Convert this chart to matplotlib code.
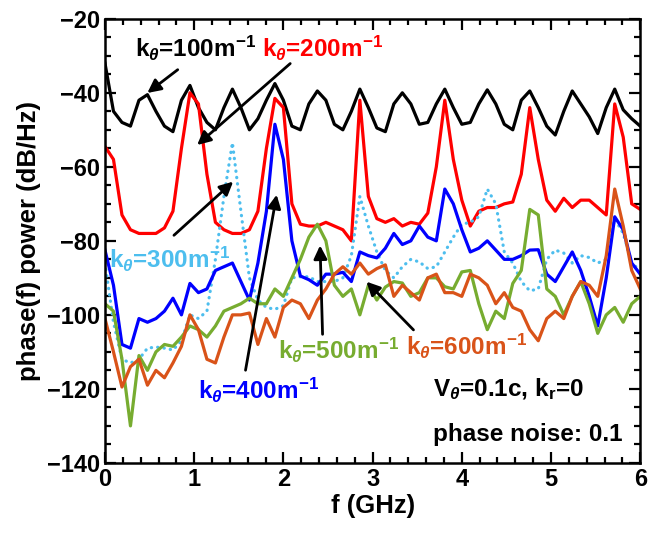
import numpy as np
import matplotlib
matplotlib.use('Agg')
import matplotlib.pyplot as plt

plt.rcParams['font.family'] = ['Liberation Sans', 'DejaVu Sans']
plt.rcParams['font.weight'] = 'bold'
plt.rcParams['mathtext.fontset'] = 'custom'
plt.rcParams['mathtext.rm'] = 'Liberation Sans:bold'
plt.rcParams['mathtext.it'] = 'Liberation Sans:italic'
plt.rcParams['mathtext.bf'] = 'Liberation Sans:bold'

# frequency grid (GHz)
f = np.linspace(0, 6, 64)

# phase(f) power in dB/Hz
k100 = [-32, -45, -48, -49, -42, -40.5, -45, -49, -50.5, -42,
        -38, -44, -48, -50, -44, -39, -44, -50, -47, -42,
        -37.5, -42, -49, -50, -43, -39.5, -42, -48.5, -50, -45,
        -39, -44, -49.5, -50.5, -43, -40, -43, -48.5, -48, -43,
        -39, -44, -48.5, -48, -43, -39.2, -43, -48.5, -50, -42,
        -39.5, -44, -49, -51.4, -45, -39.5, -43, -46.5, -51, -44,
        -39, -44.6, -47, -49]
k200 = [-54.5, -58, -73, -77, -78, -78, -78, -76.5, -72, -55,
        -40, -43, -62, -75, -77, -78, -78, -77, -72, -55,
        -41.5, -44, -70, -75.5, -76, -76, -75, -76, -77, -80,
        -42, -68, -74, -75, -74, -76, -75, -75.5, -72.5, -60,
        -42, -58, -69, -76, -72, -71, -71, -70, -69.5, -62,
        -44, -58, -69, -72, -68.5, -71, -69, -69, -71, -73,
        -43, -52, -70, -71.5]
k300 = [-86, -102, -112, -113, -112, -109, -108.7, -109, -109.5, -107,
        -100, -101, -99, -85, -68, -53.5, -72, -90, -96, -98,
        -98.5, -97.5, -90, -89.7, -89.7, -91, -91, -91, -90, -84,
        -68, -76, -83, -88, -90, -87, -85, -85.7, -87.5, -87,
        -83, -79, -75.5, -75, -73.5, -66, -70, -83, -86, -91,
        -93.5, -93, -85, -82.5, -83.3, -86, -84, -84.5, -86, -85,
        -74, -78, -86, -88]
k400 = [-82.5, -92, -108, -109, -101, -102, -101, -99, -95.5, -100,
        -91.5, -94, -93, -88, -87, -86, -91, -96, -86, -72,
        -48.5, -58, -80, -89.5, -90.5, -92, -89, -89, -88.5, -91,
        -83, -84, -84.6, -82, -78, -81, -80, -76, -79, -80,
        -66, -70, -77, -83, -82, -80, -82.5, -85, -85, -84,
        -82.5, -82.4, -89, -91, -87, -83, -88, -95, -103, -90,
        -73.5, -77, -86, -89]
k500 = [-97, -99, -112, -130, -111, -115, -110, -108, -108.5, -106,
        -103, -104, -106, -103, -99, -98, -97, -95.5, -97, -97,
        -93, -95, -90, -85, -79, -75.5, -80, -92, -95, -93,
        -100, -92, -96, -92.5, -91, -91.4, -95, -94, -90, -90,
        -92.4, -93, -88.4, -88, -97, -104, -99, -101, -91.5, -88,
        -71.5, -73, -93, -95, -100, -95, -91, -97, -105, -100,
        -98, -102, -97, -95]
k600 = [-101, -110, -119.5, -114, -112, -119, -115, -117, -113, -108.5,
        -100, -104, -112, -113, -106, -100, -100, -99.5, -108, -101,
        -106, -98, -96, -97, -101, -96, -93, -89, -87, -89,
        -86, -89, -87.5, -86.5, -95, -92, -94, -96, -90, -89,
        -94, -94, -95, -89, -90, -92, -97, -94, -98, -99,
        -104, -107, -101, -99, -101, -95, -91, -92, -95, -84,
        -66, -76, -88, -93]

fig = plt.figure(figsize=(6.48, 5.37), dpi=100)
ax = fig.add_axes([0.162, 0.138, 0.826, 0.827])

lw = 2.3
ax.plot(f, k100, color='black', lw=lw)
ax.plot(f, k200, color='#FF0000', lw=lw)
ax.plot(f, k300, color='#4DBEEE', lw=lw, ls=(0, (0.1, 1.9)), dash_capstyle='round')
ax.plot(f, k400, color='#0000FF', lw=lw)
ax.plot(f, k500, color='#77AC30', lw=lw)
ax.plot(f, k600, color='#D95319', lw=lw)

ax.set_xlim(0, 6)
ax.set_ylim(-140, -20)
ax.set_xticks(range(0, 7))
ax.set_yticks(range(-140, -19, 20))
ax.set_xticks(np.arange(0, 6.01, 0.2), minor=True)
ax.set_yticks(np.arange(-140, -19, 5), minor=True)
ax.tick_params(which='both', direction='in', top=True, right=True, width=1.6)
ax.tick_params(which='major', length=8, labelsize=17)
ax.tick_params(which='minor', length=4)
for s in ax.spines.values():
    s.set_linewidth(1.8)

ax.set_xlabel('f (GHz)', fontsize=18.5, fontweight='bold', labelpad=2)
ax.set_ylabel('phase(f) power (dB/Hz)', fontsize=18.5, fontweight='bold', labelpad=4)

arrow = dict(arrowstyle='-|>', color='black', lw=2, mutation_scale=20)
fs = 17.5
ax.annotate('', xy=(0.45, -40.5), xytext=(0.84, -33.3), arrowprops=arrow)
ax.annotate('', xy=(1.01, -54.6), xytext=(2.10, -31.6), arrowprops=arrow)
ax.annotate('', xy=(1.46, -63.5), xytext=(0.75, -79), arrowprops=arrow)
ax.annotate('', xy=(1.93, -66.8), xytext=(1.57, -115.7), arrowprops=arrow)
ax.annotate('', xy=(2.41, -80.5), xytext=(2.44, -106), arrowprops=arrow)
ax.annotate('', xy=(2.91, -90.5), xytext=(3.48, -104.6), arrowprops=arrow)

ax.text(0.34, -28, r'k$_\theta$=100m$^{\mathbf{-1}}$', color='black', fontsize=fs, va='center')
ax.text(1.76, -28, r'k$_\theta$=200m$^{\mathbf{-1}}$', color='#FF0000', fontsize=fs, va='center')
ax.text(0.05, -85, r'k$_\theta$=300m$^{\mathbf{-1}}$', color='#4DBEEE', fontsize=fs, va='center')
ax.text(1.04, -120.3, r'k$_\theta$=400m$^{\mathbf{-1}}$', color='#0000FF', fontsize=fs, va='center')
ax.text(1.94, -109.5, r'k$_\theta$=500m$^{\mathbf{-1}}$', color='#77AC30', fontsize=fs, va='center')
ax.text(3.37, -108.5, r'k$_\theta$=600m$^{\mathbf{-1}}$', color='#D95319', fontsize=fs, va='center')
ax.text(3.68, -120, r'V$_\theta$=0.1c, k$_{\mathbf{r}}$=0', color='black', fontsize=fs, va='center')
ax.text(3.68, -132.4, 'phase noise: 0.1', color='black', fontsize=fs, va='center')

fig.savefig('out.png', dpi=100)
